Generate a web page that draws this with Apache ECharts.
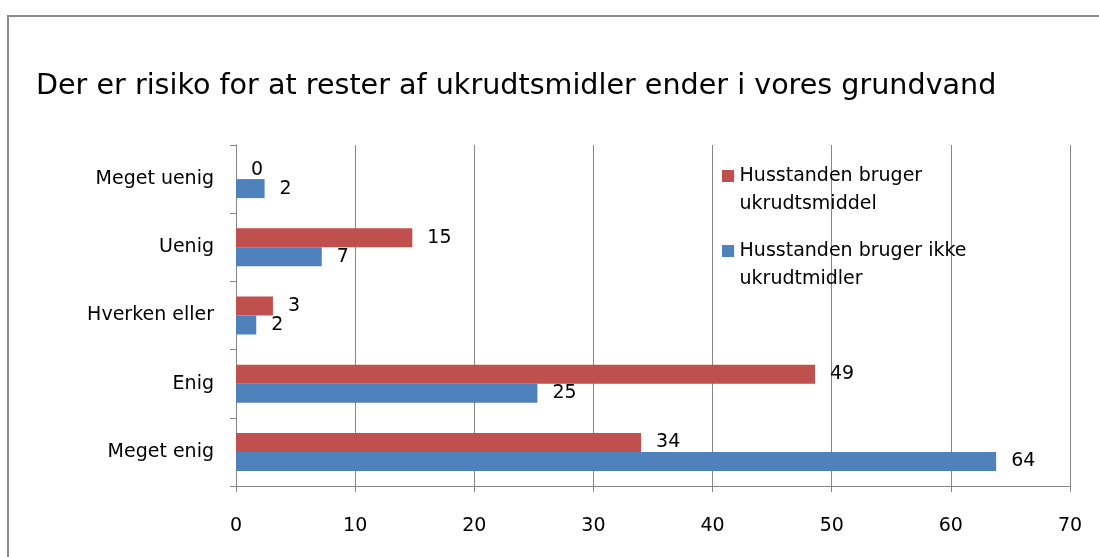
<!DOCTYPE html>
<html>
<head>
<meta charset="utf-8">
<script src="https://cdn.jsdelivr.net/npm/echarts@6/dist/echarts.min.js"></script>
<style>
html,body{margin:0;padding:0;background:#fff;}
#chart{width:1099px;height:557px;}
</style>
</head>
<body>
<div id="chart"></div>
<script>
var titleText = 'Der er risiko for at rester af ukrudtsmidler ender i vores grundvand';
// kategorier nedefra og op
var categories = ['Meget enig', 'Enig', 'Hverken eller', 'Uenig', 'Meget uenig'];
var nameBruger = 'Husstanden bruger ukrudtsmiddel';
var nameIkke = 'Husstanden bruger ikke ukrudtmidler';
var brugerValues = [34.0, 48.6, 3.1, 14.8, 0];
var ikkeValues = [63.8, 25.3, 1.7, 7.2, 2.4];
var xTicks = [0, 10, 20, 30, 40, 50, 60, 70];

var fontFam = '"DejaVu Sans", sans-serif';
var grey = '#868686';

var myChart = echarts.init(document.getElementById('chart'));
var option = {
	backgroundColor: '#fff',
	animation: false,
	title: {
		text: titleText,
		left: 31,
		top: 67,
		textStyle: {fontFamily: fontFam, fontSize: 28.6, fontWeight: 'normal', color: '#000'}
	},
	legend: {
		orient: 'vertical',
		left: 722,
		top: 162,
		padding: 0,
		itemGap: 19,
		itemWidth: 13,
		itemHeight: 40,
		icon: 'path://M0,0H10V10H0Z M0,33H10V33.01H0Z',
		data: [nameBruger, nameIkke],
		formatter: function(name){
			return name.replace(/ (\S+)$/, '\n$1');
		},
		textStyle: {fontFamily: fontFam, fontSize: 19, color: '#000', lineHeight: 28}
	},
	graphic: [{
		type: 'rect',
		shape: {x: 8, y: 16, width: 1200, height: 700},
		style: {fill: 'none', stroke: '#8c8c8c', lineWidth: 2},
		silent: true
	}],
	grid: {left: 236, right: 29, top: 145, bottom: 71, containLabel: false, outerBoundsMode: 'none'},
	xAxis: {
		type: 'value',
		min: 0,
		max: 70,
		interval: 10,
		axisLine: {show: true, lineStyle: {color: grey, width: 1}},
		axisTick: {show: true, length: 6, lineStyle: {color: grey}},
		splitLine: {show: true, lineStyle: {color: grey, width: 1}},
		axisLabel: {
			margin: 31,
			fontFamily: fontFam, fontSize: 19, color: '#000',
			formatter: function(v){ return xTicks.indexOf(v) >= 0 ? String(v) : ''; }
		}
	},
	yAxis: {
		type: 'category',
		data: categories,
		axisLine: {show: true, lineStyle: {color: grey, width: 1}},
		axisTick: {show: true, length: 6, lineStyle: {color: grey}},
		axisLabel: {margin: 22, fontFamily: fontFam, fontSize: 19, color: '#000'}
	},
	series: [
		{
			name: nameBruger,
			type: 'bar',
			data: brugerValues,
			barWidth: 19,
			barGap: '0%',
			itemStyle: {color: '#C0504D'},
			label: {
				show: true, position: 'right', distance: 15,
				fontFamily: fontFam, fontSize: 19, color: '#000',
				formatter: function(p){ return Math.round(p.value); }
			}
		},
		{
			name: nameIkke,
			type: 'bar',
			data: ikkeValues,
			barWidth: 19,
			barGap: '0%',
			itemStyle: {color: '#4F81BD'},
			label: {
				show: true, position: 'right', distance: 15,
				fontFamily: fontFam, fontSize: 19, color: '#000',
				formatter: function(p){ return Math.round(p.value); }
			}
		}
	]
};
myChart.setOption(option);
</script>
</body>
</html>
